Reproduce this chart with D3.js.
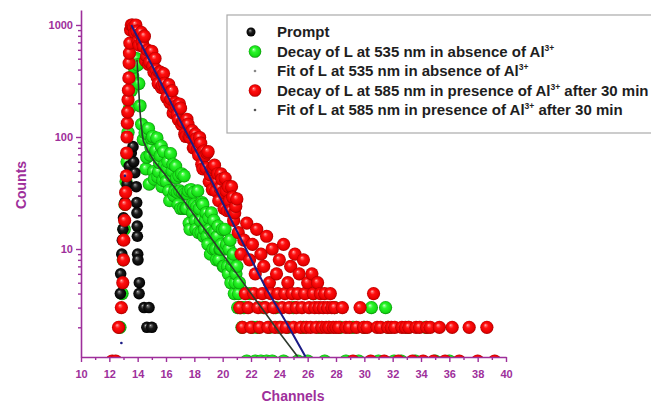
<!DOCTYPE html>
<html>
<head>
<meta charset="utf-8">
<script src="https://cdn.jsdelivr.net/npm/d3@7/dist/d3.min.js"></script>
<style>
    body { margin: 0; background: #fff; }
    text { font-family: Arial, "Liberation Sans", sans-serif; font-weight: bold; }
</style>
</head>
<body>
<div id="chart"></div>
<script>
// values, [channel, counts]
var promptData = [
    [12.7, 2], [12.78, 4], [12.8, 6], [12.88, 9], [12.92, 12], [12.96, 15], [13.0, 19], [13.1, 26],
    [13.25, 38], [13.4, 55], [13.55, 72], [13.67, 82], [13.72, 60], [13.8, 48], [13.9, 36], [13.93, 26],
    [13.95, 21], [13.97, 16], [13.98, 13], [14.0, 9], [14.02, 8], [14.12, 5], [14.1, 4], [14.45, 3],
    [14.8, 3], [14.65, 2], [15.0, 2]
];

var decay535 = [
    [12.75, 2], [12.9, 4], [12.98, 8], [13.05, 15], [13.1, 25], [13.18, 40], [13.25, 60], [13.32, 110],
    [13.42, 180], [13.55, 260], [13.65, 350], [13.75, 420], [13.85, 470], [13.92, 500], [14.0, 440],
    [14.08, 300], [14.17, 190], [14.28, 130], [14.4, 95],
    [14.52, 109], [14.58, 52], [14.64, 66], [14.7, 107], [14.76, 119], [14.82, 38], [14.88, 69], [14.94, 81],
    [15.0, 97], [15.06, 101], [15.12, 49], [15.18, 42], [15.24, 70], [15.3, 76], [15.36, 98], [15.42, 44],
    [15.48, 49], [15.54, 59], [15.6, 68], [15.66, 83], [15.72, 36], [15.78, 41], [15.84, 74], [15.9, 56],
    [15.96, 46], [16.02, 40], [16.08, 53], [16.14, 60], [16.2, 33], [16.26, 27], [16.32, 71], [16.38, 45],
    [16.44, 50], [16.5, 57], [16.56, 30], [16.62, 33], [16.68, 55], [16.74, 43], [16.8, 32], [16.86, 25],
    [16.92, 45], [16.98, 33], [17.04, 23], [17.1, 47], [17.16, 32], [17.22, 23], [17.28, 45], [17.34, 31],
    [17.4, 23], [17.46, 23], [17.52, 31], [17.58, 33], [17.64, 17], [17.7, 15], [17.76, 34], [17.82, 25],
    [17.88, 21], [17.94, 32], [18.0, 25], [18.06, 18], [18.12, 15], [18.18, 24], [18.24, 33], [18.3, 14],
    [18.36, 23], [18.42, 18], [18.48, 14], [18.54, 26], [18.6, 25], [18.66, 13], [18.72, 15], [18.78, 18],
    [18.84, 21], [18.9, 13], [18.96, 11], [19.02, 19], [19.08, 15], [19.14, 9], [19.2, 21], [19.26, 14],
    [19.32, 10], [19.38, 18], [19.44, 14], [19.5, 10], [19.56, 8], [19.62, 13], [19.68, 16], [19.74, 8],
    [19.8, 10], [19.86, 10], [19.92, 11], [19.98, 15], [20.04, 7], [20.1, 7], [20.16, 15], [20.22, 10],
    [20.28, 11], [20.34, 7], [20.4, 6], [20.46, 10], [20.52, 12], [20.58, 5], [20.64, 7], [20.7, 8],
    [20.76, 9], [20.82, 4], [20.88, 5], [20.94, 6], [21.0, 7], [21.06, 3], [21.12, 4], [21.18, 5], [21.24, 3],
    [21.3, 3], [21.36, 2], [21.5, 3], [21.7, 1], [21.9, 4], [22.1, 2], [22.3, 1], [22.45, 2], [22.7, 1],
    [22.9, 3], [23.1, 1], [23.3, 2], [23.5, 1], [23.75, 3], [24.0, 2], [24.3, 1], [24.6, 2], [25.0, 3],
    [25.3, 1], [25.7, 2], [26.0, 1], [26.4, 4], [26.8, 2], [27.2, 1], [27.5, 2], [27.9, 3], [28.3, 2],
    [28.7, 1], [29.2, 2], [29.6, 1], [30.0, 2], [30.5, 3], [31.0, 1], [31.5, 3], [31.7, 2], [32.1, 1],
    [32.6, 1], [33.1, 2], [33.6, 1], [34.35, 2], [35.0, 1], [36.0, 1]
];

var decay585 = [
    [12.2, 1], [12.45, 1], [12.65, 2], [12.85, 3], [12.95, 5], [13.0, 8], [13.02, 12], [13.08, 18],
    [13.12, 25], [13.15, 32], [13.2, 45], [13.22, 72], [13.25, 100], [13.27, 133], [13.3, 167], [13.32, 215],
    [13.35, 262], [13.38, 337], [13.4, 457], [13.42, 561], [13.45, 689], [13.5, 900], [13.55, 1000],
    [13.65, 1000], [13.725, 955], [13.8, 854], [13.875, 1000], [13.95, 883], [14.025, 721], [14.1, 661],
    [14.175, 835], [14.25, 859], [14.325, 701], [14.4, 643], [14.475, 794], [14.55, 480], [14.625, 530],
    [14.7, 597], [14.775, 445], [14.85, 467], [14.925, 578], [15.0, 581], [15.075, 432], [15.15, 379],
    [15.225, 502], [15.3, 400], [15.375, 342], [15.45, 300], [15.525, 379], [15.6, 380], [15.675, 276],
    [15.75, 291], [15.825, 368], [15.9, 301], [15.975, 269], [16.05, 225], [16.125, 277], [16.2, 293],
    [16.275, 203], [16.35, 218], [16.425, 258], [16.5, 164], [16.575, 184], [16.65, 203], [16.725, 190],
    [16.8, 159], [16.875, 143], [16.95, 197], [17.025, 181], [17.1, 129], [17.175, 138], [17.25, 136],
    [17.325, 106], [17.4, 101], [17.475, 144], [17.55, 130], [17.625, 101], [17.7, 99], [17.775, 109],
    [17.85, 114], [17.925, 80], [18.0, 80], [18.075, 106], [18.15, 97], [18.225, 79], [18.3, 69], [18.375, 99],
    [18.45, 88], [18.525, 57], [18.6, 52], [18.675, 75], [18.75, 68], [18.825, 53], [18.9, 72], [18.975, 74],
    [19.05, 40], [19.125, 46], [19.2, 51], [19.275, 34], [19.35, 53], [19.425, 56], [19.5, 33], [19.575, 40],
    [19.65, 47], [19.725, 27], [19.8, 35], [19.875, 47], [19.95, 42], [20.025, 32], [20.1, 23], [20.175, 43],
    [20.25, 33], [20.325, 22], [20.4, 36], [20.475, 27], [20.55, 22], [20.625, 36], [20.7, 29], [20.775, 18],
    [20.85, 21], [20.925, 24], [21.0, 28],
    [21.1, 14], [21.2, 3], [21.3, 9], [21.4, 2], [21.5, 12], [21.6, 4], [21.7, 17], [21.8, 3], [21.9, 8],
    [22.0, 2], [22.1, 11], [22.2, 4], [22.3, 6], [22.4, 15], [22.5, 3], [22.6, 2], [22.7, 9], [22.8, 4], [22.9, 7],
    [23.0, 3], [23.1, 13], [23.2, 2], [23.3, 5], [23.4, 4], [23.5, 10], [23.6, 3], [23.7, 2], [23.8, 6], [23.9, 4],
    [24.0, 8], [24.1, 2], [24.2, 3], [24.3, 11], [24.4, 4], [24.5, 2], [24.6, 5], [24.7, 3], [24.8, 7], [24.9, 4],
    [25.0, 2], [25.1, 9], [25.2, 3], [25.3, 4], [25.4, 6], [25.5, 2], [25.6, 3], [25.7, 8], [25.8, 4], [25.9, 2],
    [26.0, 5], [26.1, 3], [26.2, 2], [26.3, 6], [26.4, 4], [26.5, 3], [26.6, 2], [26.7, 5], [26.8, 3], [26.9, 4],
    [27.0, 2], [27.1, 3], [27.2, 4], [27.3, 2], [27.4, 3], [27.5, 2], [27.6, 4], [27.7, 3], [27.8, 2], [27.9, 3],
    [28.0, 2], [28.2, 2], [28.45, 3], [28.7, 2], [28.95, 2], [29.2, 1], [29.45, 2], [29.7, 3], [29.95, 2],
    [30.2, 2], [30.45, 1], [30.65, 4], [30.9, 2], [31.15, 2], [31.4, 1], [31.65, 2], [31.9, 2], [32.15, 2],
    [32.4, 1], [32.65, 2], [32.9, 2], [33.15, 2], [33.4, 1], [33.65, 2], [33.9, 2], [34.15, 1], [34.4, 2],
    [34.65, 2], [34.9, 1], [35.3, 2], [35.7, 1], [36.2, 2], [36.7, 1], [37.4, 2], [38.0, 1], [38.65, 2], [39.2, 1]
];

var fit535 = [
    [13.95, 490], [14.05, 300], [14.15, 180], [14.25, 125], [14.4, 92], [14.7, 76], [15.2, 60], [16.0, 45],
    [17.0, 30], [18.0, 20], [19.0, 13.5], [20.0, 9], [21.0, 6], [22.0, 4], [23.0, 2.7], [24.0, 1.8], [25.3, 1.09]
];

var fit585 = [
    [13.55, 1000], [15.0, 440], [17.0, 140], [19.0, 46], [21.0, 14.5], [23.0, 4.6], [24.5, 2.2], [25.85, 1.09]
];
var fit585Stray = [[12.85, 1.45], [13.1, 45]];

var xMajor = [10, 12, 14, 16, 18, 20, 22, 24, 26, 28, 30, 32, 34, 36, 38, 40],
    xMinor = [11, 13, 15, 17, 19, 21, 23, 25, 27, 29, 31, 33, 35, 37, 39],
    yMajor = [10, 100, 1000],
    yMinor = [2, 3, 4, 5, 6, 7, 8, 9, 20, 30, 40, 50, 60, 70, 80, 90, 200, 300, 400, 500, 600, 700, 800, 900];

var legendItems = [
    { kind: "prompt", text: "Prompt" },
    { kind: "green", text: "Decay of L at 535 nm in absence of Al", sup: "3+" },
    { kind: "fitG", text: "Fit of L at 535 nm in absence of Al", sup: "3+" },
    { kind: "red", text: "Decay of L at 585 nm in presence of Al", sup: "3+", tail: " after 30 min" },
    { kind: "fitR", text: "Fit of L at 585 nm in presence of Al", sup: "3+", tail: " after 30 min" }
];

var purple = "#9e2f9b";

var svg = d3.select("#chart").append("svg")
    .attr("width", 651)
    .attr("height", 403);

var x = d3.scaleLinear().domain([10, 40]).range([81, 506]),
    y = d3.scaleLog().domain([1.086, 1361]).range([357, 10]);

// shaded balls
var defs = svg.append("defs");
function ball(id, stops) {
    var g = defs.append("radialGradient").attr("id", id)
        .attr("cx", "50%").attr("cy", "50%").attr("r", "50%")
        .attr("fx", "38%").attr("fy", "32%");
    stops.forEach(function(s) {
        g.append("stop").attr("offset", s[0]).attr("stop-color", s[1]);
    });
}
ball("gRed", [["0%", "#ffd8d8"], ["12%", "#ff7070"], ["38%", "#ff1010"], ["82%", "#e80000"], ["100%", "#a80000"]]);
ball("gGreen", [["0%", "#eaffea"], ["12%", "#8aff8a"], ["38%", "#2af52a"], ["82%", "#14dc14"], ["100%", "#0a900a"]]);
ball("gBlack", [["0%", "#d8d8d8"], ["14%", "#707070"], ["45%", "#1a1a1a"], ["100%", "#000"]]);

defs.append("clipPath").attr("id", "plotClip")
    .append("rect").attr("x", 81).attr("y", 0).attr("width", 445).attr("height", 357);

var plot = svg.append("g").attr("clip-path", "url(#plotClip)");

function drawBalls(data, r, grad) {
    plot.append("g").selectAll("circle")
        .data(data)
        .enter().append("circle")
            .attr("cx", function(d) { return x(d[0]); })
            .attr("cy", function(d) { return y(d[1]); })
            .attr("r", r)
            .attr("fill", "url(#" + grad + ")");
}

drawBalls(decay535, 6.6, "gGreen");
drawBalls(promptData, 5.8, "gBlack");
drawBalls(decay585, 6.6, "gRed");

var line = d3.line()
    .x(function(d) { return x(d[0]); })
    .y(function(d) { return y(d[1]); });

plot.append("path").datum(fit535)
    .attr("d", line)
    .attr("fill", "none")
    .attr("stroke", "#2e3a2e")
    .attr("stroke-width", 1.6);

plot.append("path").datum(fit585)
    .attr("d", line)
    .attr("fill", "none")
    .attr("stroke", "#1b1b86")
    .attr("stroke-width", 2);

plot.append("g").selectAll("circle")
    .data(fit585Stray)
    .enter().append("circle")
        .attr("cx", function(d) { return x(d[0]); })
        .attr("cy", function(d) { return y(d[1]); })
        .attr("r", 1.3)
        .attr("fill", "#1b1b86");

// axes
var xAxis = d3.axisBottom(x)
    .tickValues(xMajor.concat(xMinor))
    .tickSize(5)
    .tickSizeOuter(0)
    .tickPadding(8)
    .tickFormat(function(d) { return xMajor.indexOf(d) >= 0 ? d : ""; });

var gx = svg.append("g").attr("transform", "translate(0,357)").call(xAxis);
gx.selectAll(".tick").filter(function(d) { return xMajor.indexOf(d) < 0; })
    .select("line").attr("y2", 3);

var yAxis = d3.axisLeft(y)
    .tickValues(yMajor.concat(yMinor))
    .tickSize(5)
    .tickSizeOuter(0)
    .tickPadding(3)
    .tickFormat(function(d) { return yMajor.indexOf(d) >= 0 ? d : ""; });

var gy = svg.append("g").attr("transform", "translate(81,0)").call(yAxis);
gy.selectAll(".tick").filter(function(d) { return yMajor.indexOf(d) < 0; })
    .select("line").attr("x2", -3);

[gx, gy].forEach(function(g) {
    g.select(".domain").attr("stroke", purple).attr("stroke-width", 1.6);
    g.selectAll(".tick line").attr("stroke", purple).attr("stroke-width", 1.4);
    g.selectAll(".tick text")
        .attr("fill", purple)
        .style("font-size", "11px")
        .style("font-family", "Arial, 'Liberation Sans', sans-serif")
        .style("font-weight", "bold");
});

svg.append("text")
    .attr("x", 293).attr("y", 401)
    .attr("text-anchor", "middle")
    .attr("fill", purple)
    .style("font-size", "14px")
    .text("Channels");

svg.append("text")
    .attr("transform", "translate(26,185) rotate(-90)")
    .attr("text-anchor", "middle")
    .attr("fill", purple)
    .style("font-size", "14px")
    .text("Counts");

// legend
var legend = svg.append("g");
legend.append("rect")
    .attr("x", 227).attr("y", 15)
    .attr("width", 440).attr("height", 118)
    .attr("fill", "#fff")
    .attr("stroke", "#aaa")
    .attr("stroke-width", 1.2);

legendItems.forEach(function(item, i) {
    var cy = 32 + i * 19.5;
    if (item.kind === "prompt") {
        legend.append("circle").attr("cx", 251).attr("cy", cy).attr("r", 4.5).attr("fill", "url(#gBlack)");
    } else if (item.kind === "green") {
        legend.append("circle").attr("cx", 255).attr("cy", cy).attr("r", 6.3).attr("fill", "url(#gGreen)");
    } else if (item.kind === "red") {
        legend.append("circle").attr("cx", 255).attr("cy", cy).attr("r", 6.3).attr("fill", "url(#gRed)");
    } else {
        legend.append("circle").attr("cx", 255).attr("cy", cy).attr("r", 1.3)
            .attr("fill", item.kind === "fitG" ? "#888" : "#555");
    }
    var t = legend.append("text")
        .attr("x", 277).attr("y", cy + 5)
        .attr("fill", "#1e1e1e")
        .style("font-size", "15px");
    t.append("tspan").text(item.text);
    if (item.sup) {
        t.append("tspan").attr("dy", -6).style("font-size", "8.5px").text(item.sup);
        if (item.tail) t.append("tspan").attr("dy", 6).text(item.tail);
    }
});
</script>
</body>
</html>
